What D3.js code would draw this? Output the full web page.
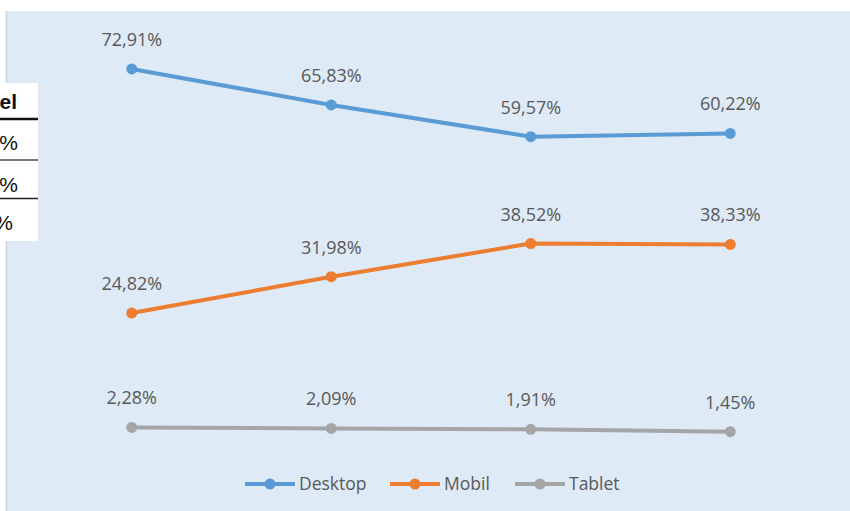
<!DOCTYPE html>
<html>
<head>
<meta charset="utf-8">
<script src="https://cdn.jsdelivr.net/npm/d3@7"></script>
<style>
  body { margin: 0; background: #fff; }
  svg { display: block; font-family: "Open Sans", "Noto Sans", sans-serif; }
</style>
</head>
<body>
<svg width="850" height="511"></svg>
<script>
// Chart data
const periods = ["P1", "P2", "P3", "P4"];
const desktop = [72.91, 65.83, 59.57, 60.22];
const mobil = [24.82, 31.98, 38.52, 38.33];
const tablet = [2.28, 2.09, 1.91, 1.45];

const seriesNames = ["Desktop", "Mobil", "Tablet"];
const seriesColors = ["#5B9BD5", "#ED7D31", "#A5A5A5"];
const seriesValues = [desktop, mobil, tablet];

const svg = d3.select("svg");

// Chart background (plot area frame)
svg.append("rect")
    .attr("x", 6).attr("y", 11)
    .attr("width", 850).attr("height", 520)
    .attr("fill", "#DEEAF6");
svg.append("line")
    .attr("x1", 6.5).attr("x2", 6.5)
    .attr("y1", 11).attr("y2", 511)
    .attr("stroke", "#cfd3d8").attr("stroke-width", 1.5);

// Scales
const x = d3.scalePoint()
    .domain(periods)
    .range([32, 830])
    .padding(0.5);

const y = d3.scaleLinear()
    .domain([0, 80])
    .range([439, 33]);

const fmt = v => d3.format(".2f")(v).replace(".", ",") + "%";

const line = d3.line()
    .x((d, i) => x(periods[i]))
    .y(d => y(d));

// Draw the series
seriesValues.forEach((vals, s) => {
    const g = svg.append("g");
    g.append("path")
        .datum(vals)
        .attr("d", line)
        .attr("fill", "none")
        .attr("stroke", seriesColors[s])
        .attr("stroke-width", 4)
        .attr("stroke-linejoin", "round");

    g.selectAll("circle")
        .data(vals)
        .enter().append("circle")
        .attr("cx", (d, i) => x(periods[i]))
        .attr("cy", d => y(d))
        .attr("r", 5.5)
        .attr("fill", seriesColors[s]);

    g.selectAll("text")
        .data(vals)
        .enter().append("text")
        .attr("x", (d, i) => x(periods[i]))
        .attr("y", d => y(d) - 23)
        .attr("text-anchor", "middle")
        .attr("font-size", 18)
        .attr("fill", "#595959")
        .text(d => fmt(d));
});

// Legend
const legendX = [245, 390, 515];
const legend = svg.selectAll(".legend")
    .data(seriesNames)
    .enter().append("g")
    .attr("class", "legend")
    .attr("transform", (d, i) => "translate(" + legendX[i] + ",484)");

legend.append("line")
    .attr("x1", 0).attr("x2", 50)
    .attr("stroke", (d, i) => seriesColors[i])
    .attr("stroke-width", 4);

legend.append("circle")
    .attr("cx", 25)
    .attr("r", 5.5)
    .attr("fill", (d, i) => seriesColors[i]);

legend.append("text")
    .attr("x", 54)
    .attr("dy", "0.35em")
    .attr("font-size", 17.5)
    .attr("fill", "#595959")
    .text(d => d);

// Partial spreadsheet table peeking in on the left
const table = svg.append("g");
table.append("rect")
    .attr("x", 38).attr("y", 84)
    .attr("width", 2).attr("height", 157)
    .attr("fill", "#e6e6e6");
table.append("rect")
    .attr("x", 0).attr("y", 83)
    .attr("width", 38).attr("height", 158)
    .attr("fill", "#fff");

table.append("text")
    .attr("x", 17).attr("y", 109)
    .attr("text-anchor", "end")
    .attr("font-family", "Liberation Sans, Arial, sans-serif")
    .attr("font-weight", "bold")
    .attr("font-size", 21)
    .attr("fill", "#111")
    .text("el");

const rules = [{ y: 119, w: 2.5, c: "#111" }, { y: 160, w: 2, c: "#777" }, { y: 198.5, w: 1.5, c: "#222" }];
rules.forEach(r => {
    table.append("line")
        .attr("x1", 0).attr("x2", 38)
        .attr("y1", r.y).attr("y2", r.y)
        .attr("stroke", r.c).attr("stroke-width", r.w);
});

const pctRows = [{ y: 150, x: 18 }, { y: 192, x: 18 }, { y: 230, x: 13 }];
pctRows.forEach(r => {
    table.append("text")
        .attr("x", r.x).attr("y", r.y)
        .attr("text-anchor", "end")
        .attr("font-family", "Liberation Sans, Arial, sans-serif")
        .attr("font-size", 21)
        .attr("fill", "#111")
        .text("%");
});
</script>
</body>
</html>
